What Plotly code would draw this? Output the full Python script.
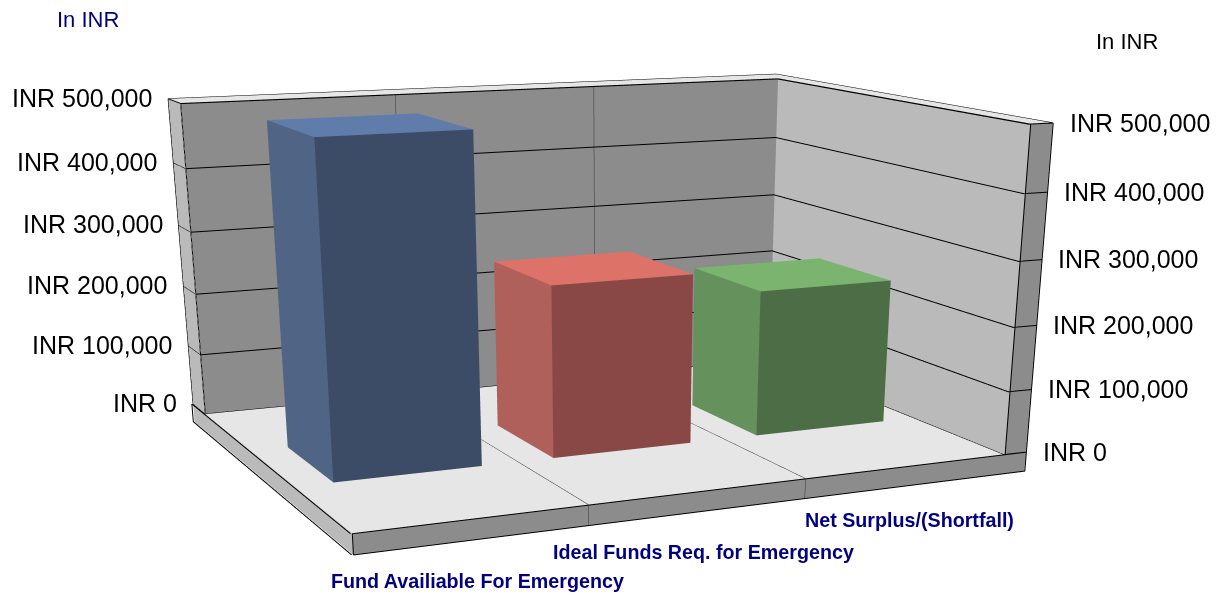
import numpy as np
import plotly.graph_objects as go

CATEGORIES = ["Fund Availiable For Emergency", "Ideal Funds Req. for Emergency", "Net Surplus/(Shortfall)"]
VALUES = [499000, 267000, 232000]
VALUE_TICKS = [0, 100000, 200000, 300000, 400000, 500000]
TICK_LABELS = ["INR 0", "INR 100,000", "INR 200,000", "INR 300,000", "INR 400,000", "INR 500,000"]
FILLS = [("#3D4C66", "#506585", "#5F7CAB"), ("#894845", "#B0605A", "#DD7268"), ("#4D6D46", "#64915C", "#7AB46E")]
VMAX = 500000

# Scene frame (camera placement, box proportions, lean of the axes, slab thicknesses)
EYE = np.array([-0.1898, -0.9849, 0.5741])
YAW, PITCH, ROLL = 0.2375, -0.5593, 0.0028
DEPTH_SCALE, HEIGHT_SCALE = 0.3251, 0.4689
SHEAR_XY, SHEAR_XZ, SHEAR_YX, SHEAR_YZ = -0.2616, 0.0490, -0.0760, 0.2049
BACK_T, RIGHT_T, FLOOR_T = 0.1026, 0.0371, 0.0616
BAR_WIDTH, BAR_Y0, BAR_Y1 = 0.222, 0.345, 0.645
EPS = 0.002
FONT = "Liberation Sans, Arial, sans-serif"

forward = np.array([np.cos(PITCH) * np.sin(YAW), np.cos(PITCH) * np.cos(YAW), np.sin(PITCH)])
right = np.cross(forward, [0, 0, 1])
right /= np.linalg.norm(right)
upv = np.cross(right, forward)
cam_up = -np.sin(ROLL) * right + np.cos(ROLL) * upv


def sc(x, y, z):
    a, b, c = x - 0.5, y - 0.5, z - 0.5
    return (a + SHEAR_XY * b + SHEAR_XZ * c, b * DEPTH_SCALE + SHEAR_YX * a + SHEAR_YZ * c, z * VMAX)


def quads(qs):
    X, I, J, K, cols = [], [], [], [], []
    for pts, col in qs:
        n = len(X)
        X += [sc(*q) for q in pts]
        I += [n, n]
        J += [n + 1, n + 2]
        K += [n + 2, n + 3]
        cols += [col, col]
    X = np.array(X)
    return go.Mesh3d(x=X[:, 0], y=X[:, 1], z=X[:, 2], i=I, j=J, k=K, facecolor=cols, flatshading=True,
                     hoverinfo="skip", showscale=False,
                     lighting=dict(ambient=1, diffuse=0, specular=0, fresnel=0, roughness=1))


def box(x0, x1, y0, y1, z1, front, side, top):
    return [([(x0, y0, 0), (x1, y0, 0), (x1, y0, z1), (x0, y0, z1)], front),
            ([(x0, y0, 0), (x0, y1, 0), (x0, y1, z1), (x0, y0, z1)], side),
            ([(x0, y0, z1), (x1, y0, z1), (x1, y1, z1), (x0, y1, z1)], top)]


def line_trace(L, color, width):
    XL = [(None, None, None) if q is None else sc(*q) for q in L]
    return go.Scatter3d(x=[a[0] for a in XL], y=[a[1] for a in XL], z=[a[2] for a in XL], mode="lines",
                        line=dict(color=color, width=width), hoverinfo="skip")


T, T2, T3 = BACK_T, RIGHT_T, FLOOR_T
fig = go.Figure()
fig.add_trace(quads([
    ([(0, 1, 0), (1, 1, 0), (1, 1, 1), (0, 1, 1)], "#8C8C8C"),
    ([(1, 0, 0), (1, 1, 0), (1, 1, 1), (1, 0, 1)], "#BABABA"),
    ([(0, 0, 0), (1, 0, 0), (1, 1, 0), (0, 1, 0)], "#E6E6E6"),
    ([(0, 1, 0), (0, 1 + T, 0), (0, 1 + T, 1), (0, 1, 1)], "#BABABA"),
    ([(0, 1, 1), (1 + T2, 1, 1), (1 + T2, 1 + T, 1), (0, 1 + T, 1)], "#E6E6E6"),
    ([(1, 0, 1), (1 + T2, 0, 1), (1 + T2, 1 + T, 1), (1, 1 + T, 1)], "#E6E6E6"),
    ([(1, 0, 0), (1 + T2, 0, 0), (1 + T2, 0, 1), (1, 0, 1)], "#8C8C8C"),
    ([(0, 0, -T3), (1 + T2, 0, -T3), (1 + T2, 0, 0), (0, 0, 0)], "#8C8C8C"),
    ([(0, 0, -T3), (0, 1 + T, -T3), (0, 1 + T, 0), (0, 0, 0)], "#BABABA"),
]))

for i, v in enumerate(VALUES):
    c = (i + 0.5) / len(VALUES)
    fig.add_trace(quads(box(c - BAR_WIDTH / 2, c + BAR_WIDTH / 2, BAR_Y0, BAR_Y1, v / VMAX, *FILLS[i])))

L = []
for v in VALUE_TICKS:
    z = v / VMAX
    L += [(0, 1 + T, z), (0, 1 - EPS, z), (1 - EPS, 1 - EPS, z), (1 - EPS, 0, z), (1 + T2, -EPS, z), None]
L += [(0, 1, 0), (0, 1, 1), None, (0, 1 + T, 0), (0, 1 + T, 1), None,
      (1, -EPS, 0), (1, -EPS, 1), None, (1 + T2, -EPS, 0), (1 + T2, -EPS, 1), None]
L += [(0, -EPS, 0), (1 + T2, -EPS, 0), None, (0, -EPS, -T3), (1 + T2, -EPS, -T3), None,
      (1 + T2, -EPS, -T3), (1 + T2, -EPS, 0), None, (0, -EPS, -T3), (0, -EPS, 0), None,
      (-EPS, 0, -T3), (-EPS, 1 + T, -T3), None, (-EPS, 0, 0), (-EPS, 1 + T, 0), None,
      (-EPS, 1 + T, -T3), (-EPS, 1 + T, 0), None]
L += [(0, 1 + T, 1), (1 + T2, 1 + T, 1), (1 + T2, 0, 1), (1, 0, 1), (1, 1, 1), (0, 1, 1), None]
fig.add_trace(line_trace(L, "#000000", 2))

D = []
for x in (1 / 3, 2 / 3):
    D += [(x, 1 - EPS, 1), (x, 1 - EPS, 0), (x, 0, 0.001), (x, -EPS, 0), (x, -EPS, -T3), None]
fig.add_trace(line_trace(D, "#333333", 1))


def sa(q, text, **kw):
    s = sc(*q)
    return dict(x=s[0], y=s[1], z=s[2], text=text, showarrow=False, **kw)


ann = []
for v, t in zip(VALUE_TICKS, TICK_LABELS):
    z = v / VMAX
    ann.append(sa((0, 1 + T, z), t, xanchor="right", xshift=-14, yshift=1, font=dict(family=FONT, size=25, color="#000000")))
    ann.append(sa((1 + T2, 0, z), t, xanchor="left", xshift=15, font=dict(family=FONT, size=25, color="#000000")))
for i, (c, xs, ys) in enumerate(zip(CATEGORIES, (4, 5, 4), (-41, -40, -34))):
    ann.append(sa(((i + 0.5) / 3, 0, -T3), c, xshift=xs, yshift=ys,
                  font=dict(family=FONT, size=19.7, color="#000080", weight="bold")))


def pa(px, py, text, color):
    return dict(x=(px - 8) / 1225, y=1 - (py - 8) / 597, xref="paper", yref="paper", xanchor="center",
                yanchor="middle", text=text, showarrow=False, font=dict(family=FONT, size=22, color=color))


fig.update_layout(
    width=1225, height=597, margin=dict(l=0, r=0, t=0, b=0), paper_bgcolor="white", showlegend=False,
    annotations=[pa(88, 19, "In INR", "#000080"), pa(1127, 41, "In INR", "#000000")],
    scene=dict(
        domain=dict(x=[0, 1], y=[0, 1]), aspectmode="manual",
        aspectratio=dict(x=4, y=4, z=2 * HEIGHT_SCALE), annotations=ann,
        xaxis=dict(range=[-2, 2], visible=False), yaxis=dict(range=[-2, 2], visible=False),
        zaxis=dict(range=[-VMAX / 2, VMAX * 1.5], visible=False),
        camera=dict(eye=dict(x=EYE[0], y=EYE[1], z=EYE[2]),
                    center=dict(x=EYE[0] + forward[0], y=EYE[1] + forward[1], z=EYE[2] + forward[2]),
                    up=dict(x=cam_up[0], y=cam_up[1], z=cam_up[2])),
    ),
)
fig.write_html("out.html")
